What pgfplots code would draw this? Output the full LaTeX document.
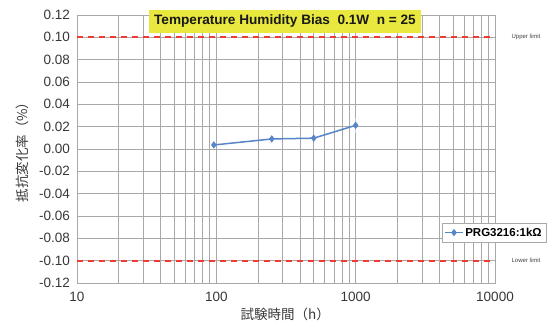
\documentclass[border=0pt]{standalone}
\usepackage{pgfplots}
\pgfplotsset{compat=1.18}
\usepackage{fontspec}
\setmainfont{Liberation Sans}
\newfontfamily\cjk{Noto Sans CJK JP}
\definecolor{gridc}{RGB}{168,168,168}
\definecolor{limred}{RGB}{238,60,50}
\definecolor{serblue}{RGB}{88,132,200}
\definecolor{titley}{RGB}{232,232,62}
\definecolor{txt}{RGB}{55,55,55}
\begin{document}
\begin{tikzpicture}[x=1pt,y=1pt]
\useasboundingbox (0,0) rectangle (555,325);
\begin{axis}[
 at={(77pt,42pt)}, anchor=south west,
 scale only axis, width=418pt, height=268pt,
 xmode=log, xmin=10, xmax=10000,
 ymin=-0.12, ymax=0.12,
 xtick={10,100,1000,10000}, xticklabels={10,100,1000,10000},
 ytick={-0.12,-0.10,-0.08,-0.06,-0.04,-0.02,0,0.02,0.04,0.06,0.08,0.10,0.12},
 yticklabels={-0.12,-0.10,-0.08,-0.06,-0.04,-0.02,0.00,0.02,0.04,0.06,0.08,0.10,0.12},
 xmajorgrids, xminorgrids, ymajorgrids,
 grid style={gridc, line width=1pt},
 minor grid style={gridc, line width=1pt},
 major tick length=0pt, minor tick length=0pt,
 axis line style={gridc, line width=1pt},
 tick label style={font=\fontsize{13.5}{14}\selectfont, text=txt},
 yticklabel style={anchor=east, inner sep=0pt, xshift=-7pt},
 xticklabel style={anchor=center, inner sep=0pt, yshift=-14pt},
 ylabel={\cjk 抵抗変化率（\%）},
 xlabel={\cjk 試験時間（h）},
 label style={font=\fontsize{13.5}{14}\selectfont, text=txt},
 ylabel style={at={(axis description cs:-0.131,0.5)}, anchor=center},
 xlabel style={at={(axis description cs:0.498,-0.116)}, anchor=center},
 clip=false,
 legend style={at={(0.998,0.188)}, anchor=center, draw=gridc, fill=white,
   font=\bfseries\fontsize{11.5}{12}\selectfont, inner xsep=3pt, inner ysep=3pt},
 legend cell align=left,
]
\addplot[color=limred, line width=2pt, dash pattern=on 6pt off 5pt, forget plot] coordinates {(10,0.1) (10000,0.1)};
\addplot[color=limred, line width=2pt, dash pattern=on 6pt off 5pt, forget plot] coordinates {(10,-0.1) (10000,-0.1)};
\addplot[serblue, line width=1.5pt, mark=diamond*, mark size=2.5pt,
  error bars/.cd, y dir=both, y explicit, error bar style={serblue!40, line width=0.5pt}, error mark options={serblue!40, mark size=1.5pt}]
 coordinates {(96,0.0036) +- (0,0) (250,0.0090) +- (0,0) (500,0.0097) +- (0,0) (1000,0.0212) +- (0,0.0055)};
\addlegendentry{PRG3216:1kΩ}
\node[fill=titley, inner xsep=5pt, minimum height=23pt, font=\bfseries\fontsize{13.6}{14}\selectfont, text=black!90]
  at (rel axis cs:0.4976,0.976) {Temperature Humidity Bias\ \ 0.1W\ \ n = 25};
\node[font=\fontsize{6}{6}\selectfont, text=black!75] at (rel axis cs:1.074,0.9167) {Upper limit};
\node[font=\fontsize{6}{6}\selectfont, text=black!75] at (rel axis cs:1.074,0.0833) {Lower limit};
\end{axis}
\end{tikzpicture}
\end{document}
